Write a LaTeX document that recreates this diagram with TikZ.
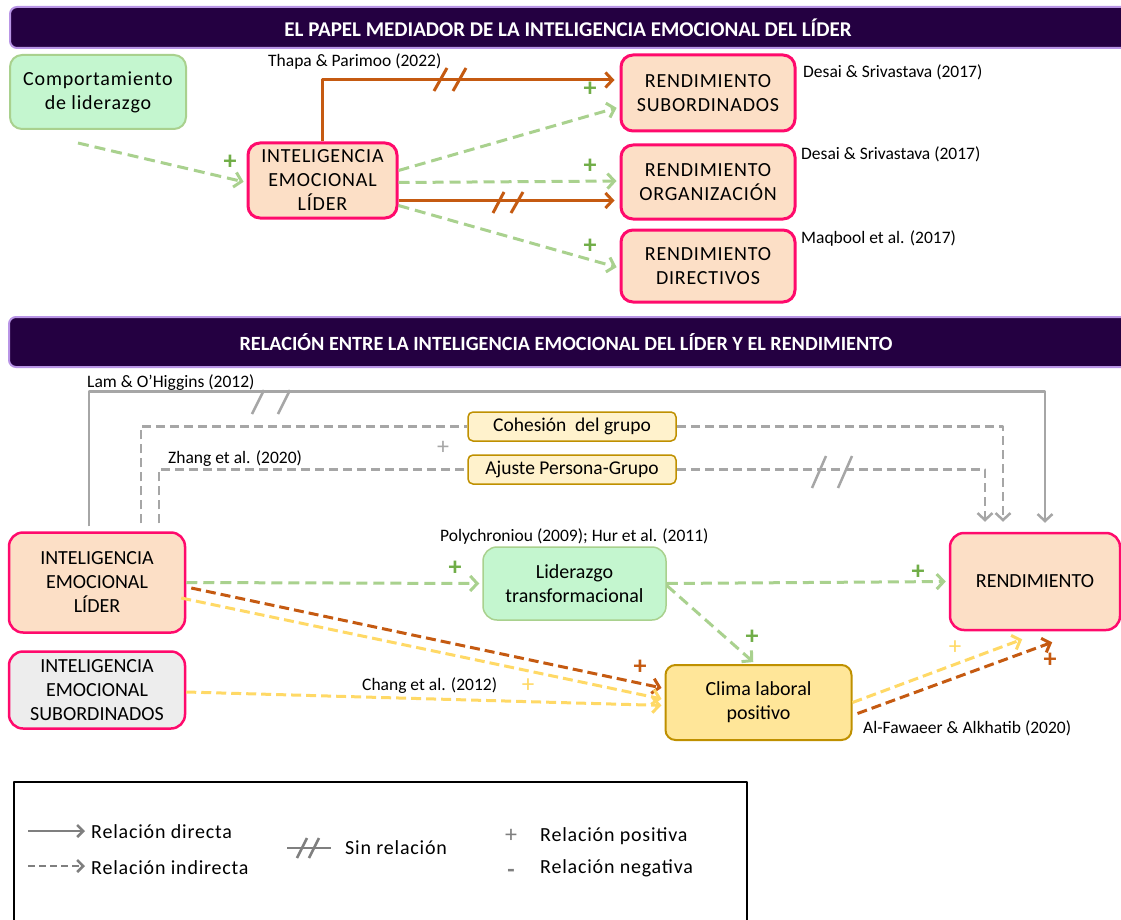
\documentclass[tikz,border=0pt]{standalone}
\usepackage{fontspec}
\setmainfont{Carlito}
\newfontfamily\spacedfont[LetterSpace=4]{Carlito}
\newfontfamily\legendfont[LetterSpace=4]{Carlito}
\usetikzlibrary{arrows.meta,calc}

\definecolor{bannerfill}{HTML}{240041}
\definecolor{bannerline}{HTML}{B995E6}
\definecolor{peach}{HTML}{FCDFC6}
\definecolor{pinkred}{HTML}{FF0A6C}
\definecolor{mintfill}{HTML}{C4F6CF}
\definecolor{mintline}{HTML}{A9D18E}
\definecolor{plusgreen}{HTML}{70AD47}
\definecolor{rust}{HTML}{C55A11}
\definecolor{amber}{HTML}{FFD966}
\definecolor{climafill}{HTML}{FFE699}
\definecolor{goldline}{HTML}{BF9000}
\definecolor{creamfill}{HTML}{FFF2CC}
\definecolor{midgray}{HTML}{A6A6A6}
\definecolor{darkgray}{HTML}{7F7F7F}
\definecolor{lightgray}{HTML}{EDEDED}

\begin{document}
\begin{tikzpicture}[x=1pt,y=-1pt,line join=round,
  every node/.style={font=\fontsize{17}{20}\selectfont},
  banner/.style={draw=bannerline,fill=bannerfill,line width=2,rounded corners=7},
  bannertext/.style={text=white,font=\bfseries\fontsize{21}{24}\selectfont},
  topbox/.style={draw=pinkred,fill=peach,line width=3,rounded corners=12,align=center,
    font=\spacedfont\fontsize{20}{24}\selectfont},
  midbox/.style={draw=pinkred,fill=peach,line width=2.5,rounded corners=14,align=center,
    font=\fontsize{20}{24}\selectfont},
  greenbox/.style={draw=mintline,fill=mintfill,line width=1.5},
  goldbox/.style={draw=goldline,fill=creamfill,line width=1.5,rounded corners=5,
    font=\fontsize{19.5}{22}\selectfont},
  cite/.style={anchor=west,inner sep=0pt,font=\fontsize{17.5}{20}\selectfont},
  plusg/.style={text=plusgreen,font=\bfseries\fontsize{26}{26}\selectfont},
  tip/.style={-{Straight Barb[length=7,width=15]}},
  greenind/.style={draw=mintline,line width=3,dash pattern=on 11 off 6,tip,shorten >=3},
  rustline/.style={draw=rust,line width=3,tip,shorten >=5},
  rustind/.style={draw=rust,line width=3,dash pattern=on 10 off 5,tip,shorten >=3},
  amberind/.style={draw=amber,line width=3,dash pattern=on 10 off 5,tip,shorten >=3},
  grayline/.style={draw=midgray,line width=2.5},
  grayind/.style={draw=midgray,line width=2.5,dash pattern=on 9 off 5}]
\useasboundingbox (0,0) rectangle (1121,920);

% Upper banner.
\draw[banner] (10,7) rectangle (1140,48);
\node[bannertext] (title1) at (568,28) {EL PAPEL MEDIADOR DE LA INTELIGENCIA EMOCIONAL DEL LÍDER};

% Upper boxes.
\node[topbox,draw=mintline,fill=mintfill,line width=2,minimum width=176,minimum height=74] (comp) at (98,92) {Comportamiento\\de liderazgo};
\node[topbox,minimum width=149,minimum height=75] (iel1) at (322.5,180.5) {INTELIGENCIA\\EMOCIONAL\\LÍDER};
\node[topbox,minimum width=174,minimum height=76] (rsub) at (708,93) {RENDIMIENTO\\SUBORDINADOS};
\node[topbox,minimum width=174,minimum height=74] (rorg) at (708,182) {RENDIMIENTO\\ORGANIZACIÓN};
\node[topbox,minimum width=174,minimum height=72] (rdir) at (708,266) {RENDIMIENTO\\DIRECTIVOS};

\node[cite] (thapa) at (268,62) {Thapa \& Parimoo (2022)};
\node[cite] (desai1) at (803,72) {Desai \& Srivastava (2017)};
\node[cite] (desai2) at (801,154) {Desai \& Srivastava (2017)};
\node[cite] (maqbool) at (801,239) {Maqbool et al. (2017)};

% Upper connectors.
\draw[greenind] ([xshift=-20,yshift=-13]comp.south) -- ([yshift=-2]iel1.west);
\draw[rustline] (iel1.north) |- ([yshift=13]rsub.west);
\draw[greenind] ([yshift=10]iel1.east) -- ([yshift=-14]rsub.west);
\draw[greenind] ([yshift=-2]iel1.east) -- ([yshift=1]rorg.west);
\draw[rustline] ([yshift=-20]iel1.east) -- ([yshift=-20]iel1.east -| rorg.west);
\draw[greenind] ([yshift=-25]iel1.east) -- ([yshift=-2]rdir.west);

% No-relation marks and signs.
\draw[rust,line width=3] (434,91) -- (447,68) (453,91) -- (466,68);
\draw[rust,line width=3] (493,213) -- (504,192) (511,213) -- (523,192);
\node[plusg] (s1) at (230,162) {+};
\node[plusg] (s2) at (590,89) {+};
\node[plusg] (s3) at (590,166) {+};
\node[plusg] (s4) at (590,246) {+};

% Lower banner.
\draw[banner] (9,317) rectangle (1140,367);
\node[bannertext,font=\bfseries\fontsize{20.2}{24}\selectfont] (title2) at (566,342) {RELACIÓN ENTRE LA INTELIGENCIA EMOCIONAL DEL LÍDER Y EL RENDIMIENTO};

% Lower boxes.
\node[midbox,minimum width=176,minimum height=100] (iel2) at (97,582.5) {INTELIGENCIA\\EMOCIONAL\\LÍDER};
\node[midbox,fill=lightgray,minimum width=176,minimum height=77] (ies) at (97,690) {INTELIGENCIA\\EMOCIONAL\\SUBORDINADOS};
\node[midbox,greenbox,minimum width=183,minimum height=73] (lidt) at (574.5,583.5) {Liderazgo\\transformacional};
\node[midbox,minimum width=170,minimum height=97] (rend) at (1035,581.5) {RENDIMIENTO};
\node[midbox,draw=goldline,fill=climafill,line width=2,rounded corners=10,minimum width=186,minimum height=75] (clima) at (758.5,702.5) {Clima laboral\\positivo};
\node[goldbox,minimum width=208,minimum height=29] (cohes) at (572,426.5) {Cohesión\ \ del grupo};
\node[goldbox,minimum width=208,minimum height=29] (ajuste) at (572,469.5) {Ajuste Persona-Grupo};

\node[cite] (lam) at (87,383) {Lam \& O’Higgins (2012)};
\node[cite] (zhang) at (168,459) {Zhang et al. (2020)};
\node[cite] (poly) at (440,537) {Polychroniou (2009); Hur et al. (2011)};
\node[cite] (chang) at (362,686) {Chang et al. (2012)};
\node[cite] (fawaeer) at (863,728) {Al-Fawaeer \& Alkhatib (2020)};

% Mediators above the boxes.
\draw[grayline,tip] ([xshift=-8,yshift=5]iel2.north) -- ++(0,-135) -| ([xshift=10,yshift=9]rend.north);
\draw[grayind] ([xshift=44,yshift=8]iel2.north) |- (cohes.west);
\draw[grayind,tip] (cohes.east) -| ([xshift=-32,yshift=10]rend.north);
\draw[grayind] ([xshift=62,yshift=8]iel2.north) |- (ajuste.west);
\draw[grayind,tip] (ajuste.east) -| ([xshift=-50,yshift=10]rend.north);
\draw[midgray,line width=2.5] (252,414) -- (264,390) (278,414) -- (290,390);
\draw[midgray,line width=2.5] (812,488) -- (826,456) (838,488) -- (852,456);
\node[text=midgray,font=\fontsize{24}{24}\selectfont] (s5) at (443,448) {+};

% Paths through the leadership style and the climate.
\draw[greenind] (iel2.east) -- (lidt.west);
\draw[greenind] (lidt.east) -- (rend.west);
\draw[greenind] ([yshift=-2]lidt.east) -- ([xshift=-3]clima.north);
\draw[rustind] ([xshift=5,yshift=-5.5]iel2.east) -- ([yshift=14]clima.west);
\draw[amberind] ([xshift=-5,yshift=-15.5]iel2.east) -- ([yshift=3]clima.west);
\draw[amberind] ([yshift=-2]ies.east) -- ([yshift=-3]clima.west);
\draw[amberind] (clima.east) -- ([xshift=-10,yshift=-7]rend.south);
\draw[rustind] ([xshift=5,yshift=-11]clima.east) -- ([xshift=20,yshift=-10]rend.south);

\node[plusg] (s6) at (455,568) {+};
\node[plusg] (s7) at (918,572) {+};
\node[plusg] (s8) at (752,637) {+};
\node[plusg,text=rust] (s9) at (640,667) {+};
\node[plusg,text=amber,font=\fontsize{25}{26}\selectfont] (s10) at (528,686) {+};
\node[plusg,text=amber,font=\fontsize{25}{26}\selectfont] (s11) at (955,648) {+};
\node[plusg,text=rust] (s12) at (1050,660) {+};

% Legend.
\draw[line width=1.2] (14,940) -- (14,782) -- (747,782) -- (747,940);
\coordinate (d1) at (28,831);
\coordinate (d2) at (85,831);
\coordinate (i1) at (28,866);
\coordinate (i2) at (85,866);
\coordinate (n1) at (287,848);
\coordinate (n2) at (331,848);
\draw[darkgray,line width=2.5,-{Straight Barb[length=6,width=12]}] (d1) -- (d2);
\draw[darkgray,line width=2.5,dash pattern=on 7 off 4,-{Straight Barb[length=6,width=12]}] (i1) -- (i2);
\draw[darkgray,line width=2.5] (n1) -- (n2);
\draw[darkgray,line width=2.5] (297,858) -- (307,838) (309,858) -- (319,838);
\node[anchor=west,inner sep=0pt,font=\legendfont\fontsize{20}{22}\selectfont] (ldir) at (91,832) {Relación directa};
\node[anchor=west,inner sep=0pt,font=\legendfont\fontsize{20}{22}\selectfont] (lind) at (91,868) {Relación indirecta};
\node[anchor=west,inner sep=0pt,font=\legendfont\fontsize{20}{22}\selectfont] (lsin) at (345,848) {Sin relación};
\node[text=darkgray,font=\fontsize{24}{24}\selectfont] (lplus) at (511,836) {+};
\node[text=darkgray,font=\bfseries\fontsize{24}{24}\selectfont] (lminus) at (511,873) {-};
\node[anchor=west,inner sep=0pt,font=\legendfont\fontsize{20}{22}\selectfont] (lpos) at (540,836) {Relación positiva};
\node[anchor=west,inner sep=0pt,font=\legendfont\fontsize{20}{22}\selectfont] (lneg) at (540,868) {Relación negativa};
\end{tikzpicture}
\end{document}
